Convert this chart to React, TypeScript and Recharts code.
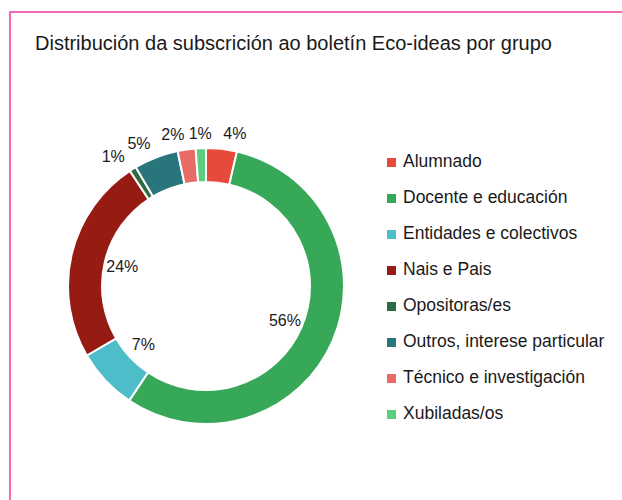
import { Legend, Pie, PieChart } from "recharts";

const categories = [
  "Alumnado",
  "Docente e educación",
  "Entidades e colectivos",
  "Nais e Pais",
  "Opositoras/es",
  "Outros, interese particular",
  "Técnico e investigación",
  "Xubiladas/os",
];
const shares = [3.6, 55.8, 7.2, 24.1, 0.8, 5.2, 2.1, 1.2];
const colors = ["#e64a3b", "#37a857", "#4dbdc9", "#961b13", "#2e6b40", "#28767c", "#e86b66", "#5ccd7f"];

const title = "Distribución da subscrición ao boletín Eco-ideas por grupo";
const FONT = "'Liberation Sans', Arial, sans-serif";

const data = categories.map((name, i) => ({ name, value: shares[i], fill: colors[i] }));

const RAD = Math.PI / 180;

const renderLabel = (props: any) => {
  const { cx, cy, midAngle, innerRadius, outerRadius, percent } = props;
  const inside = percent >= 0.07;
  const r = inside ? innerRadius - 18 : outerRadius + 15;
  const x = cx + r * Math.cos(-midAngle * RAD);
  const y = cy + r * Math.sin(-midAngle * RAD);
  let anchor = "middle";
  if (!inside) {
    const dx = x - cx;
    anchor = Math.abs(dx) < 8 ? "middle" : dx > 0 ? "start" : "end";
  }
  return (
    <text x={x} y={y} textAnchor={anchor} dominantBaseline="central" fill="#1a1a1a" fontSize={16} fontFamily={FONT}>
      {`${Math.round(percent * 100)}%`}
    </text>
  );
};

const renderLegend = (props: any) => {
  const { payload } = props;
  return (
    <div style={{ fontFamily: FONT, fontSize: 17.5, color: "#1a1a1a" }}>
      {payload.map((entry: any) => (
        <div key={entry.value} style={{ height: 36, lineHeight: "36px", position: "relative", whiteSpace: "nowrap" }}>
          <span
            style={{
              position: "absolute",
              left: 0,
              top: 15,
              width: 9,
              height: 9,
              background: entry.color,
            }}
          />
          <span style={{ position: "absolute", left: 16, top: 0 }}>{entry.value}</span>
        </div>
      ))}
    </div>
  );
};

export default function App() {
  return (
    <div style={{ position: "absolute", left: 0, top: 0, width: 622, height: 500, background: "#fff", overflow: "hidden" }}>
      <div
        style={{
          position: "absolute",
          left: 9,
          top: 11,
          width: 622,
          height: 500,
          borderTop: "2px solid #f06bb5",
          borderLeft: "2px solid #f06bb5",
        }}
      />
      <div
        style={{
          position: "absolute",
          left: 35,
          top: 33,
          fontFamily: FONT,
          fontSize: 20,
          lineHeight: "20px",
          color: "#1a1a1a",
          whiteSpace: "nowrap",
        }}
      >
        {title}
      </div>
      <div style={{ position: "absolute", left: 0, top: 0 }}>
        <PieChart width={622} height={500} margin={{ top: 0, right: 0, bottom: 0, left: 0 }}>
          <Pie
            data={data}
            dataKey="value"
            nameKey="name"
            cx={206}
            cy={286}
            innerRadius={104}
            outerRadius={138}
            startAngle={90}
            endAngle={-270}
            stroke="#ffffff"
            strokeWidth={2}
            label={renderLabel}
            labelLine={false}
            isAnimationActive={false}
          />
          <Legend
            layout="vertical"
            align="right"
            verticalAlign="top"
            content={renderLegend}
            wrapperStyle={{ left: 387, right: "auto", top: 143, width: 230 }}
          />
        </PieChart>
      </div>
    </div>
  );
}
